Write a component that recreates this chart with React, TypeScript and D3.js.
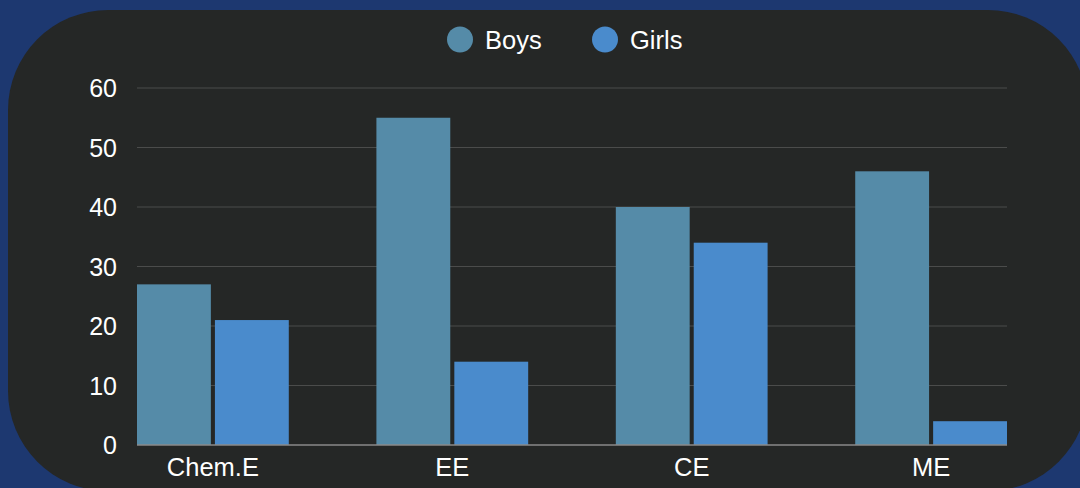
import * as d3 from 'd3'

const categories = ['Chem.E', 'EE', 'CE', 'ME']
const series = ['Boys', 'Girls']
const boys = [27, 55, 40, 46]
const girls = [21, 14, 34, 4]
const yTicks = [0, 10, 20, 30, 40, 50, 60]

const COLORS = {
  page: '#1d3870',
  card: '#252726',
  boys: '#558ba8',
  girls: '#4a8bcc',
  grid: '#4b4c4b',
  axis: '#8a8a8a',
  text: '#ffffff',
}

const seriesColor = [COLORS.boys, COLORS.girls]

export default function App() {
  const width = 1080
  const height = 488

  const left = 137
  const right = 1007
  const top = 88
  const bottom = 445

  const x = d3.scaleBand<string>()
    .domain(categories)
    .range([left, right])
    .paddingInner(0.366)
    .paddingOuter(0)

  const xInner = d3.scaleBand<string>()
    .domain(series)
    .range([0, x.bandwidth()])
    .paddingInner(0.052)

  const y = d3.scaleLinear().domain([0, 60]).range([bottom, top])

  const values = [boys, girls]

  return (
    <svg
      width={width}
      height={height}
      style={{position: 'absolute', top: 0, left: 0, display: 'block'}}
      fontFamily={'Liberation Sans, Arial, sans-serif'}
    >
      <rect x={0} y={0} width={width} height={height} fill={COLORS.page} />
      <rect x={8} y={10} width={1080} height={481} rx={100} ry={100} fill={COLORS.card} />

      {/* legend */}
      <g fontSize={25.5} fill={COLORS.text}>
        {series.map((s, i) => (
          <g key={s} transform={`translate(${460 + i * 145}, 39.5)`}>
            <circle r={13} fill={seriesColor[i]} />
            <text x={25} dy={'0.36em'}>{s}</text>
          </g>
        ))}
      </g>

      {/* grid */}
      {yTicks.map(t => (
        <g key={t}>
          {t !== 0 && (
            <line
              x1={left}
              x2={right}
              y1={y(t)}
              y2={y(t)}
              stroke={COLORS.grid}
              strokeWidth={1}
            />
          )}
          <text
            x={117}
            y={y(t)}
            dy={'0.36em'}
            textAnchor={'end'}
            fontSize={25}
            fill={COLORS.text}
          >
            {t}
          </text>
        </g>
      ))}

      {/* bars */}
      {categories.map((c, ci) => (
        <g key={c} transform={`translate(${x(c)}, 0)`}>
          {series.map((s, si) => (
            <rect
              key={s}
              x={xInner(s)}
              y={y(values[si][ci])}
              width={xInner.bandwidth()}
              height={bottom - y(values[si][ci])}
              fill={seriesColor[si]}
            />
          ))}
          <text
            x={x.bandwidth() / 2}
            y={467}
            dy={'0.36em'}
            textAnchor={'middle'}
            fontSize={25.5}
            fill={COLORS.text}
          >
            {c}
          </text>
        </g>
      ))}

      <line x1={left} x2={right} y1={bottom} y2={bottom} stroke={COLORS.axis} strokeWidth={1.5} />
    </svg>
  )
}
